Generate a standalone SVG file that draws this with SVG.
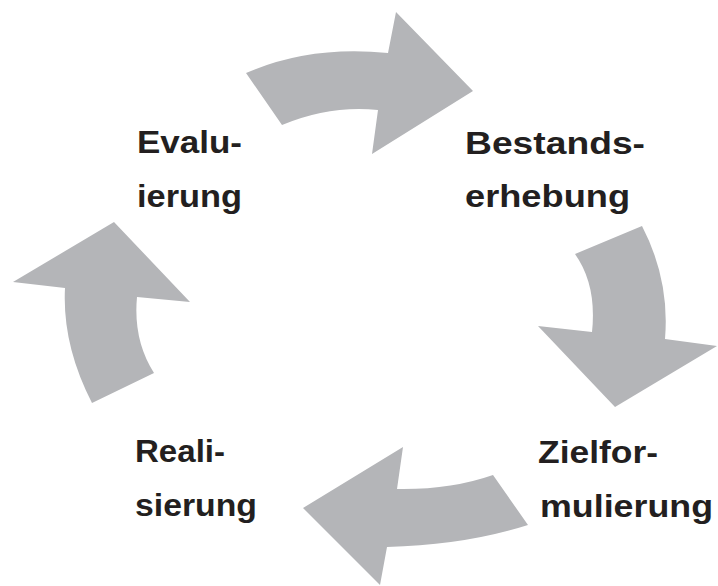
<svg xmlns="http://www.w3.org/2000/svg" width="718" height="586" viewBox="0 0 718 586">
<style>
.arrow{fill:#b4b5b8;stroke:none}
.lbl{font-family:"Liberation Sans",Arial,sans-serif;font-weight:bold;font-size:32px;fill:#231f20}
</style>
<rect width="718" height="586" fill="#ffffff"/>
<g id="connectors">
<path class="arrow" d="M246,73 Q310,45 388,53 L396,12 L473,91 L372,154 L378,110 Q330,105 282,125 Z"/>
<path class="arrow" d="M575,254 Q597,285 592,332 L538,326 L615,407 L717,346 L665,339 Q670,280 642,226 Z"/>
<path class="arrow" d="M493,475 Q450,490 397,489 L403,447 L303,508 L380,585 L387,547 Q465,545 528,525 Z"/>
<path class="arrow" d="M114,222 L13,282 L65,288 Q62,345 92,403 L154,373 Q133,340 137,297 L190,302 Z"/>
</g>
<g id="evaluierung">
<text class="lbl" x="137" y="153" textLength="105" lengthAdjust="spacingAndGlyphs">Evalu-</text>
<text class="lbl" x="137" y="207" textLength="105" lengthAdjust="spacingAndGlyphs">ierung</text>
</g>
<g id="bestandserhebung">
<text class="lbl" x="465" y="154" textLength="180" lengthAdjust="spacingAndGlyphs">Bestands-</text>
<text class="lbl" x="465" y="207" textLength="165" lengthAdjust="spacingAndGlyphs">erhebung</text>
</g>
<g id="realisierung">
<text class="lbl" x="135" y="462" textLength="90" lengthAdjust="spacingAndGlyphs">Reali-</text>
<text class="lbl" x="135" y="516" textLength="122" lengthAdjust="spacingAndGlyphs">sierung</text>
</g>
<g id="zielformulierung">
<text class="lbl" x="538" y="463" textLength="120" lengthAdjust="spacingAndGlyphs">Zielfor-</text>
<text class="lbl" x="540" y="517" textLength="173" lengthAdjust="spacingAndGlyphs">mulierung</text>
</g>
</svg>
